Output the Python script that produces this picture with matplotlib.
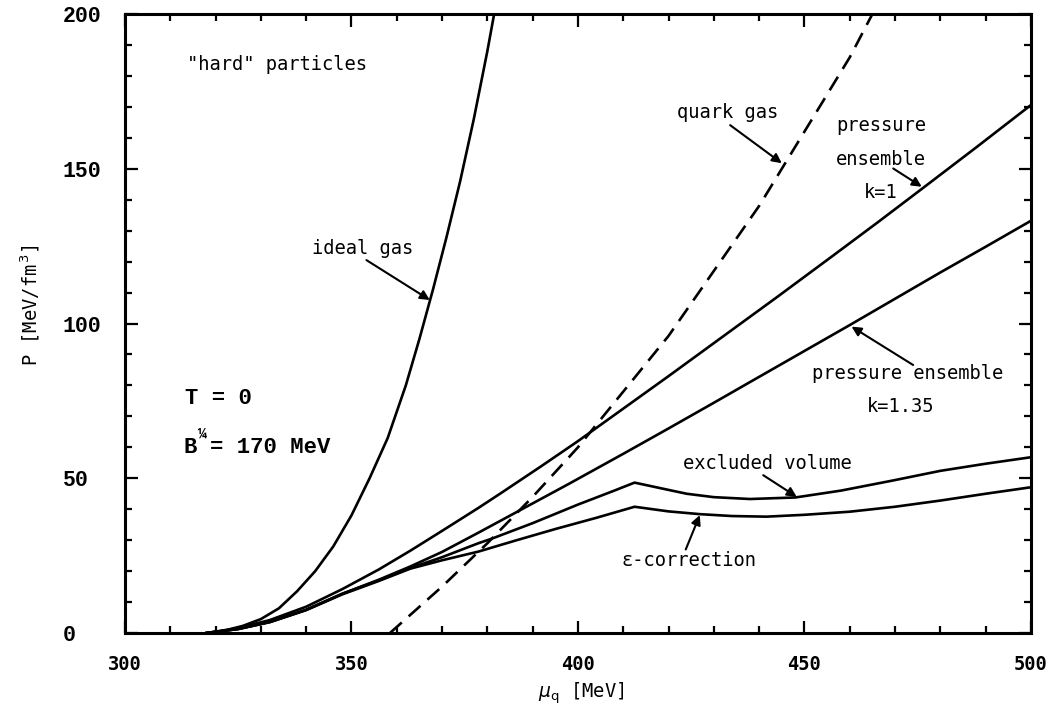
import matplotlib.pyplot as plt
from matplotlib.ticker import MultipleLocator

# Pressure P [MeV/fm^3] versus quark chemical potential mu_q [MeV], T = 0

mu_ideal = [318, 322, 326, 330, 334, 338, 342, 346, 350, 354, 358, 362, 365, 368, 371, 374, 377, 380, 381.5]
p_ideal = [0, 0.8, 2.3, 4.5, 8, 13.5, 20, 28, 38, 50, 63, 80, 95, 111, 128, 146, 166, 188, 200]

mu_quark = [358.5, 370, 380, 390, 400, 410, 420, 430, 440, 450, 460, 465]
p_quark = [0, 15, 29, 44, 60, 78, 96, 117, 138, 162, 186, 200]

mu_k1 = [318, 325, 332, 340, 348, 356, 363, 370, 378, 383, 392, 400, 410, 420, 432, 444, 456, 466, 476, 488, 500]
p_k1 = [0, 1.6, 4.2, 8.5, 14.2, 20.5, 26.6, 33, 40.4, 45.2, 54, 62, 72.5, 83, 95.8, 108.6, 121.6, 132.5, 143.6, 157, 170.6]

mu_k135 = [318, 325, 332, 340, 348, 356, 363, 370, 378, 388, 398, 410, 420, 430, 438, 449, 460, 470, 480, 490, 500]
p_k135 = [0, 1.3, 3.6, 7.5, 12.7, 17.2, 21.5, 26.2, 32.4, 40.3, 48.2, 57.9, 66.1, 74.4, 81.1, 90.3, 99.5, 108, 116.5, 124.8, 133.2]

mu_excl = [318, 325, 332, 340, 348, 356, 363, 370, 378, 381, 390, 400, 408, 412.5,
           416, 419.5, 424, 430, 438, 448, 458, 469.6, 480, 490, 500]
p_excl = [0, 1.3, 3.6, 7.5, 12.7, 17, 21, 24.5, 29, 30.5, 35.5, 41.5, 46, 48.6,
          47.5, 46.4, 45, 43.9, 43.3, 43.8, 46.0, 49.3, 52.4, 54.7, 56.8]

mu_eps = [318, 325, 332, 340, 348, 356, 363, 370, 378, 386.5, 395, 404, 412.5,
          416, 420, 427, 434, 441.6, 450, 460, 470, 480, 490, 500]
p_eps = [0, 1.3, 3.5, 7.4, 12.5, 16.8, 20.8, 23.5, 26.3, 30, 33.6, 37.2, 40.8,
         40.1, 39.3, 38.4, 37.8, 37.6, 38.2, 39.2, 40.8, 42.8, 45, 47.1]

x_ticks = [300, 350, 400, 450, 500]
y_ticks = [0, 50, 100, 150, 200]

mono = "DejaVu Sans Mono"
courier = "Liberation Mono"

fig = plt.figure(figsize=(10.51, 7.2), dpi=100)
ax = fig.add_axes([0.1189, 0.1208, 0.8620, 0.8597])

lw = 1.9
ax.plot(mu_ideal, p_ideal, color="black", lw=lw)
ax.plot(mu_quark, p_quark, color="black", lw=lw, dashes=(6, 3.5))
ax.plot(mu_k1, p_k1, color="black", lw=lw)
ax.plot(mu_k135, p_k135, color="black", lw=lw)
ax.plot(mu_excl, p_excl, color="black", lw=lw)
ax.plot(mu_eps, p_eps, color="black", lw=lw)

ax.set_xlim(300, 500)
ax.set_ylim(0, 200)
ax.set_xticks(x_ticks)
ax.set_yticks(y_ticks)
ax.xaxis.set_minor_locator(MultipleLocator(10))
ax.yaxis.set_minor_locator(MultipleLocator(10))
ax.tick_params(which="both", direction="in", top=True, right=True, width=1.6, color="black")
ax.tick_params(which="major", length=9)
ax.tick_params(which="minor", length=5)
ax.tick_params(axis="x", which="major", pad=16)
ax.tick_params(axis="y", which="major", pad=45)
for lab in ax.get_xticklabels():
    lab.set_fontfamily(mono)
    lab.set_fontweight("bold")
    lab.set_fontsize(13.5)
for lab in ax.get_yticklabels():
    lab.set_fontfamily(courier)
    lab.set_fontweight("bold")
    lab.set_fontsize(15.5)
    lab.set_horizontalalignment("left")
for sp in ax.spines.values():
    sp.set_linewidth(2.2)

ax.set_xlabel(r"$\mu_{\rm q}$ [MeV]", fontfamily=mono, fontsize=13.5)
ax.xaxis.label.set_verticalalignment("center")
ax.xaxis.set_label_coords(0.504, -0.097)
ax.set_ylabel(r"P [MeV/fm$^{\,3}$]", fontfamily=mono, fontsize=13.5)
ax.yaxis.set_label_coords(-0.092, 0.53)

# curve labels with arrows
txt = dict(fontfamily=mono, fontsize=13.5, va="center")
arrow = dict(arrowstyle="-|>", color="black", lw=1.5, mutation_scale=14, shrinkA=0, shrinkB=0)

ax.text(313.7, 183.8, '"hard" particles', ha="left", **txt)
ax.text(341.2, 124.4, "ideal gas", ha="left", **txt)
ax.annotate("", xy=(367.3, 107.6), xytext=(353.3, 120.5), arrowprops=arrow)

ax.text(421.8, 168.3, "quark gas", ha="left", **txt)
ax.annotate("", xy=(445.0, 151.8), xytext=(433.6, 164.1), arrowprops=arrow)

ax.text(466.9, 164.1, "pressure", ha="center", **txt)
ax.text(466.9, 153.1, "ensemble", ha="center", **txt)
ax.text(466.9, 142.2, "k=1", ha="center", **txt)
ax.annotate("", xy=(475.9, 144.2), xytext=(469.6, 150.1), arrowprops=arrow)

ax.text(472.7, 84.0, "pressure ensemble", ha="center", **txt)
ax.text(471.3, 73.3, "k=1.35", ha="center", **txt)
ax.annotate("", xy=(460.4, 99.0), xytext=(474.0, 86.6), arrowprops=arrow)

ax.text(423.2, 54.9, "excluded volume", ha="left", **txt)
ax.annotate("", xy=(448.3, 44.0), xytext=(440.9, 51.0), arrowprops=arrow)

ax.text(409.6, 23.3, "\u03b5-correction", ha="left", **txt)
ax.annotate("", xy=(426.9, 38.1), xytext=(423.8, 27.0), arrowprops=arrow)

# bag model parameters
par = dict(fontfamily=courier, fontweight="bold", fontsize=16, va="center", ha="left")
ax.text(313.2, 75.9, "T = 0", **par)
ax.text(313.0, 59.8, "B", **par)
ax.text(316.2, 64.5, "\u00bc", fontfamily=courier, fontweight="bold", fontsize=11, va="center", ha="left")
ax.text(318.8, 59.8, "= 170 MeV", **par)

fig.savefig("out.png", dpi=100)
